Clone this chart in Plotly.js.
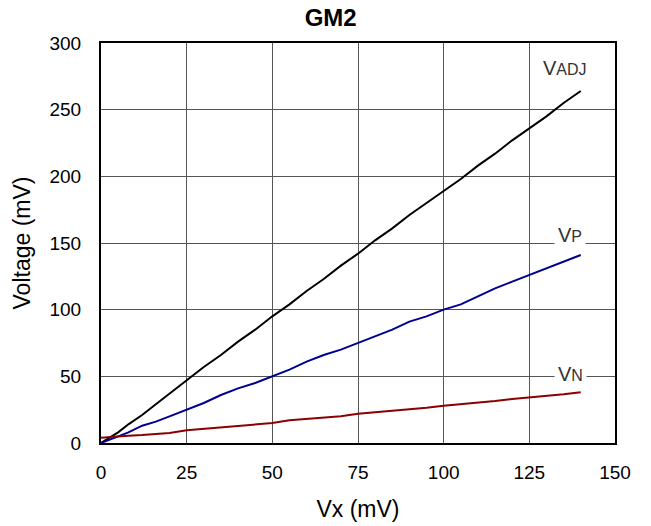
<!DOCTYPE html>
<html><head><meta charset="utf-8">
<script src="https://cdn.plot.ly/plotly-3.0.1.min.js"></script>
<style>body{margin:0;padding:0;background:#fff}#chart{width:651px;height:526px}</style>
</head><body><div id="chart"></div>
<script>
const vx = [0, 2, 5, 8, 12, 16, 20, 25, 30, 35, 40, 45, 50, 55, 60, 65, 70, 75, 80, 85, 90, 95, 100, 105, 110, 115, 120, 125, 130, 135, 140];
const vadj = [0, 3, 8, 14, 21, 29, 37, 47, 57, 66, 76, 85, 95, 104, 114, 123, 133, 142, 152, 161, 171, 180, 189, 198, 208, 217, 227, 236, 245, 255, 264];
const vp = [0, 2, 5, 8, 13, 16, 20, 25, 30, 36, 41, 45, 50, 55, 61, 66, 70, 75, 80, 85, 91, 95, 100, 104, 110, 116, 121, 126, 131, 136, 141];
const vn = [4, 4.5, 5, 5.5, 6, 6.5, 7.5, 9.5, 10.5, 11.5, 12.5, 13.5, 15, 17, 18, 19, 20, 22, 23, 24, 25, 26.5, 28, 29, 30, 31.5, 33, 34, 35, 36.5, 38];

const traces = [
  {x: vx, y: vadj, mode: 'lines', line: {color: '#000000', width: 2}, name: 'VADJ'},
  {x: vx, y: vp, mode: 'lines', line: {color: '#000090', width: 2}, name: 'VP'},
  {x: vx, y: vn, mode: 'lines', line: {color: '#8b0000', width: 2}, name: 'VN'}
];
const fam = 'Arial, Liberation Sans, sans-serif';
const sub = s => '<span style="font-size:16px">' + s + '</span>';
const lab = {family: fam, size: 20, color: '#333'};
const layout = {
  width: 651, height: 526,
  margin: {l: 101, r: 36, t: 43, b: 83},
  paper_bgcolor: '#fff', plot_bgcolor: '#fff',
  showlegend: false,
  font: {family: fam, size: 19, color: '#000'},
  title: {text: '<b>GM2</b>', font: {family: fam, size: 24, color: '#000'}, x: 0.508, xanchor: 'center', y: 0.966, yanchor: 'middle'},
  xaxis: {
    range: [0, 150], tickvals: [0, 25, 50, 75, 100, 125, 150],
    ticks: 'outside', ticklen: 11, tickcolor: 'rgba(0,0,0,0)',
    showgrid: true, gridcolor: '#555', gridwidth: 1, zeroline: false,
    showline: true, linecolor: '#000', linewidth: 2, mirror: true,
    tickfont: {family: fam, size: 19, color: '#000'},
    title: {text: 'Vx (mV)', font: {family: fam, size: 23, color: '#000'}, standoff: 19}
  },
  yaxis: {
    range: [0, 300], tickvals: [0, 50, 100, 150, 200, 250, 300],
    ticks: 'outside', ticklen: 14, tickcolor: 'rgba(0,0,0,0)',
    showgrid: true, gridcolor: '#555', gridwidth: 1, zeroline: false,
    showline: true, linecolor: '#000', linewidth: 2, mirror: true,
    tickfont: {family: fam, size: 19, color: '#000'},
    title: {text: 'Voltage (mV)', font: {family: fam, size: 23, color: '#000'}, standoff: 12}
  },
  annotations: [
    {x: 135.5, y: 281, xref: 'x', yref: 'y', text: 'V' + sub('ADJ'), showarrow: false, font: lab},
    {x: 137, y: 156, xref: 'x', yref: 'y', text: 'V' + sub('P'), showarrow: false, font: lab, bgcolor: '#fff', borderpad: 3},
    {x: 137, y: 52, xref: 'x', yref: 'y', text: 'V' + sub('N'), showarrow: false, font: lab, bgcolor: '#fff', borderpad: 3}
  ]
};
Plotly.newPlot('chart', traces, layout, {displayModeBar: false, staticPlot: true});
</script></body></html>
